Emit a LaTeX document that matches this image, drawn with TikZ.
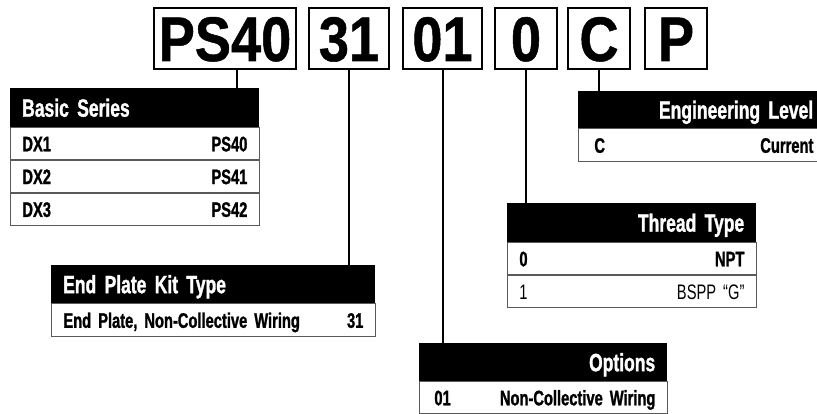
\documentclass[tikz,border=0pt]{standalone}
\usepackage{fontspec}
\setmainfont{Liberation Sans}
\newfontfamily\condfont[FakeStretch=0.7, WordSpace=0.55, BoldFeatures={FakeBold=1.2}]{Liberation Sans}
\newfontfamily\codefont[FakeStretch=0.86, BoldFeatures={FakeBold=0.8}]{Liberation Sans}
\definecolor{ruleGray}{HTML}{5A5A5A}

\tikzset{
  codebox/.style={draw, line width=2pt, minimum height=61pt, inner sep=0pt,
    font=\codefont\bfseries\fontsize{63}{63}\selectfont, text height=45pt, text depth=0pt},
  tablehead/.style={fill=black, text=white, anchor=north west, minimum height=38pt,
    inner xsep=12pt, inner ysep=0pt, text height=18pt, text depth=0pt,
    font=\condfont\bfseries\fontsize{25}{25}\selectfont},
  tablerow/.style={draw=ruleGray, line width=0.8pt, anchor=north west, minimum height=32pt,
    inner xsep=12pt, inner ysep=0pt, text height=15pt, text depth=0pt,
    font=\condfont\bfseries\fontsize{21}{21}\selectfont},
  link/.style={line width=2pt},
}

\begin{document}
\begin{tikzpicture}[x=1pt, y=-1pt]
  \useasboundingbox (0,0) rectangle (817,414);

  % part number boxes
  \node[codebox, minimum width=142pt] (ps) at (225,38.5) {PS40};
  \node[codebox, minimum width=80pt] (kit) at (349,38.5) {31};
  \node[codebox, minimum width=79pt] (opt) at (442.5,38.5) {01};
  \node[codebox, minimum width=62pt] (thr) at (526,38.5) {0};
  \node[codebox, minimum width=62pt] (eng) at (599,38.5) {C};
  \node[codebox, minimum width=62pt] (pp) at (676,38.5) {P};

  % basic series
  \node[tablehead, text width=225pt, align=left, minimum height=39pt] (bshead) at (10,88) {Basic Series};
  \node[tablerow, text width=225pt] (bs1) at (bshead.south west) {DX1\hfill PS40};
  \node[tablerow, text width=225pt] (bs2) at (bs1.south west) {DX2\hfill PS41};
  \node[tablerow, text width=225pt] (bs3) at (bs2.south west) {DX3\hfill PS42};

  % end plate kit type
  \node[tablehead, text width=300pt, align=left] (ephead) at (51,265) {End Plate Kit Type};
  \node[tablerow, text width=300pt, minimum height=33pt] (ep1) at (ephead.south west) {End Plate, Non-Collective Wiring\hfill 31};

  % options
  \node[tablehead, text width=224pt, align=right] (ophead) at (419,343) {Options};
  \node[tablerow, text width=224pt] (op1) at (ophead.south west) {\hspace*{3pt}01\hfill Non-Collective Wiring};

  % thread type
  \node[tablehead, text width=225pt, align=right, minimum height=39pt] (thhead) at (507,203) {Thread Type};
  \node[tablerow, text width=225pt] (th1) at (thhead.south west) {0\hfill NPT};
  \node[tablerow, text width=225pt, font=\condfont\fontsize{21}{21}\selectfont] (th2) at (th1.south west) {1\hfill BSPP “G”};

  % engineering level
  \node[tablehead, text width=231pt, inner xsep=4pt, align=right, minimum height=37pt] (enhead) at (578,91) {Engineering Level};
  \node[tablerow, text width=231pt, inner xsep=4pt, minimum height=33pt] (en1) at (enhead.south west) {\hspace*{12pt}C\hfill Current};

  % connectors
  \draw[link] ([xshift=12pt]ps.south) -- ([xshift=12pt]ps.south |- bshead.north);
  \draw[link] (kit.south) -- (kit.south |- ephead.north);
  \draw[link] (opt.south) -- (opt.south |- ophead.north);
  \draw[link] (thr.south) -- (thr.south |- thhead.north);
  \draw[link] (eng.south) -- (eng.south |- enhead.north);
\end{tikzpicture}
\end{document}
